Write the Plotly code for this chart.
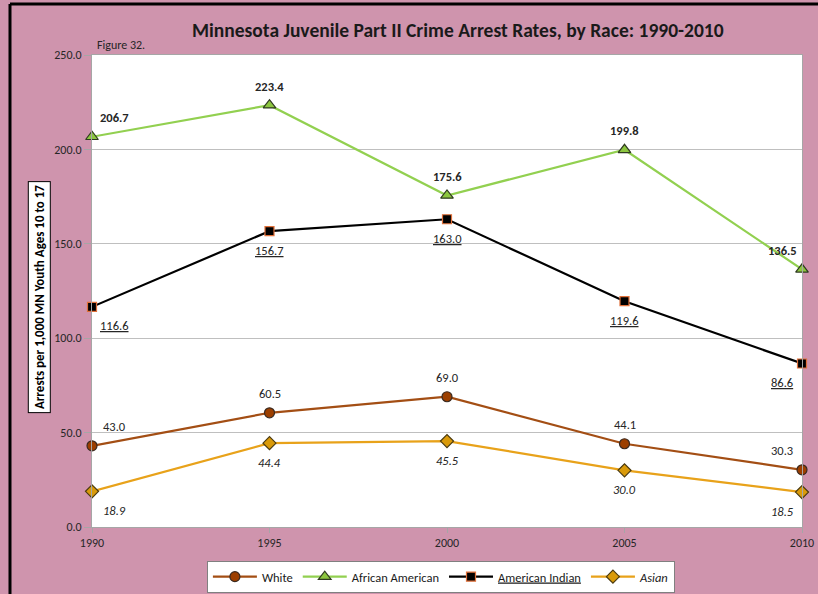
import plotly.graph_objects as go

# Arrest rates per 1,000 youth ages 10-17
years = [1990, 1995, 2000, 2005, 2010]
white = [43.0, 60.5, 69.0, 44.1, 30.3]
african_american = [206.7, 223.4, 175.6, 199.8, 136.5]
american_indian = [116.6, 156.7, 163.0, 119.6, 86.6]
asian = [18.9, 44.4, 45.5, 30.0, 18.5]
y_ticks = [0, 50, 100, 150, 200, 250]

FONT = "Carlito, Lato, Liberation Sans, sans-serif"
PINK = "#CF94AD"

series = [
    # name, values, line colour, marker symbol, fill, edge, size, label fmt, label side
    ("White", white, "#A34E14", "circle", "#9C3F00", "#3A2A20", 10, "{}", "above"),
    ("African American", african_american, "#92D050", "triangle-up", "#8CC63F", "#2F3A20", 11, "<b>{}</b>", "above"),
    ("<u>American Indian</u>", american_indian, "#000000", "square", "#000000", "#E0703A", 9, "<u>{}</u>", "below"),
    ("<i>Asian</i>", asian, "#E8A21A", "diamond", "#D99A0A", "#4A3A10", 10, "<i>{}</i>", "below"),
]

fig = go.Figure()
annotations = []
for name, vals, lc, sym, fill, edge, size, fmt, side in series:
    fig.add_trace(go.Scatter(
        x=years, y=vals, name=name, mode="lines+markers",
        line=dict(color=lc, width=2.2),
        marker=dict(symbol=sym, size=size, color=fill, line=dict(color=edge, width=1.2)),
        cliponaxis=False,
    ))
    for i, (yr, v) in enumerate(zip(years, vals)):
        xs = 0
        if i == 0:
            xs = 22
        elif i == len(years) - 1:
            xs = -20
        annotations.append(dict(
            x=yr, y=v, xref="x", yref="y", text=fmt.format(f"{v:.1f}"),
            showarrow=False, xshift=xs, yshift=19 if side == "above" else -19,
            font=dict(family=FONT, size=12.5, color="#262626"),
        ))

# Chart title, figure number and boxed axis title
annotations += [
    dict(text="<b>Minnesota Juvenile Part II Crime Arrest Rates, by Race: 1990-2010</b>",
         xref="paper", yref="paper", x=0.515, y=1.053, xanchor="center", yanchor="middle",
         showarrow=False, font=dict(family=FONT, size=19.5, color="#1A1A1A")),
    dict(text="Figure 32.", xref="paper", yref="paper", x=0.004, y=1.021,
         xanchor="left", yanchor="middle", showarrow=False,
         font=dict(family=FONT, size=12, color="#262626")),
    dict(text="<b>Arrests per 1,000 MN Youth Ages 10 to 17</b>", textangle=-90,
         xref="paper", yref="paper", x=-0.074, y=0.488, xanchor="center", yanchor="middle",
         showarrow=False, bgcolor="white", bordercolor="black", borderwidth=1, borderpad=3,
         font=dict(family=FONT, size=13, color="#000000")),
]

fig.update_layout(
    width=818, height=594,
    margin=dict(l=92, r=16, t=55, b=67, autoexpand=False),
    paper_bgcolor=PINK, plot_bgcolor="white",
    font=dict(family=FONT, size=12, color="#262626"),
    showlegend=True,
    legend=dict(orientation="h", xref="container", yref="container",
                x=0.539, xanchor="center", y=1 - 561 / 594, yanchor="top",
                bgcolor="white", bordercolor="#808080", borderwidth=1,
                font=dict(family=FONT, size=12.5, color="#1A1A1A"),
                itemwidth=44, tracegroupgap=0),
    annotations=annotations,
    shapes=[
        # black frame lines along the top and left edges
        dict(type="line", xref="paper", yref="paper", x0=-0.1155, x1=1.03, y0=1.108, y1=1.108,
             line=dict(color="black", width=3)),
        dict(type="line", xref="paper", yref="paper", x0=-0.1155, x1=-0.1155, y0=1.108, y1=-0.15,
             line=dict(color="black", width=3)),
    ],
)
fig.update_xaxes(range=[1990, 2010], tickvals=years, ticktext=[str(y) for y in years],
                 showgrid=False, showline=True, linecolor="#A6A6A6", mirror=True,
                 ticks="outside", ticklen=5, tickcolor="#A6A6A6",
                 tickfont=dict(family=FONT, size=12, color="#262626"), zeroline=False)
fig.update_yaxes(range=[0, 250], tickvals=y_ticks, tickformat=".1f",
                 showgrid=True, gridcolor="#BFBFBF", gridwidth=1,
                 showline=True, linecolor="#A6A6A6", mirror=True,
                 ticks="outside", ticklen=7, tickcolor="#A6A6A6",
                 tickfont=dict(family=FONT, size=12, color="#262626"), zeroline=False)

fig.write_html("out.html")
